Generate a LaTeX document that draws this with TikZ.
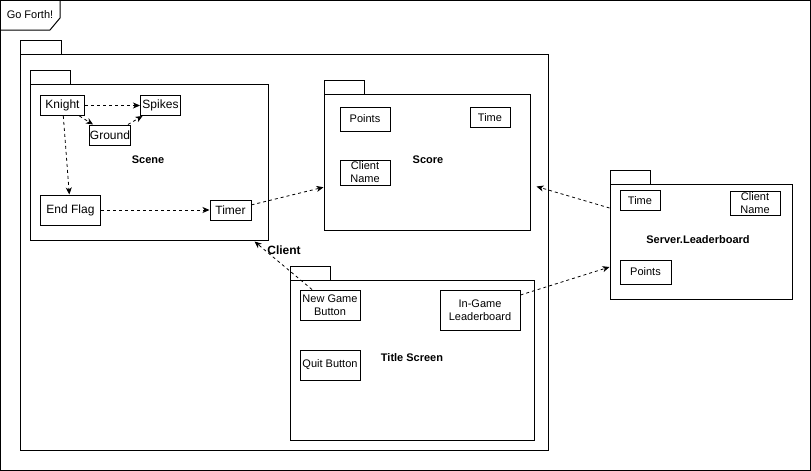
\documentclass[tikz,border=0pt]{standalone}
\usepackage{fontspec}
\setmainfont{Liberation Sans}
\usetikzlibrary{arrows.meta,calc}
\begin{document}
\begin{tikzpicture}[x=1pt,y=-1pt,
  box/.style={draw,line width=1pt,fill=white,inner sep=0pt,align=center,font=\fontsize{11}{13}\selectfont},
  bigbox/.style={box,font=\fontsize{12}{14}\selectfont},
  pkg/.style={draw,line width=1pt,fill=white,inner sep=0pt,font=\bfseries\fontsize{11}{13}\selectfont},
  tabbox/.style={draw,line width=1pt,fill=white},
  dep/.style={draw,line width=0.8pt,dash pattern=on 3pt off 3pt,-{Stealth[length=7pt,width=6pt,inset=2pt]}}
]
\useasboundingbox (0,0) rectangle (811,471);
% outer frame
\draw[line width=1pt,fill=white] (0.5,0.5) rectangle (810.5,470.5);
\draw[line width=1pt] (0.5,30) -- (50,30) -- (60,18) -- (60,0.5);
\node[font=\fontsize{11}{13}\selectfont] (goforth) at (30,15) {Go Forth!};

% Client package
\draw[tabbox] (20,40) rectangle (61,54);
\node[pkg,minimum width=528pt,minimum height=396pt,font=\bfseries\fontsize{12}{14}\selectfont,text depth=0pt] (client) at (284,252) {};
\node[font=\bfseries\fontsize{12}{14}\selectfont] (clientlbl) at (284,250) {Client};

% Scene package
\draw[tabbox] (30,70) rectangle (70,84);
\node[pkg,minimum width=238pt,minimum height=156pt] (scene) at (149,162) {};
\node[font=\bfseries\fontsize{11}{13}\selectfont] (scenelbl) at (148,160) {Scene};
\node[bigbox,minimum width=44pt,minimum height=20pt] (knight) at (62.5,105.5) {Knight};
\node[bigbox,minimum width=40pt,minimum height=20pt] (spikes) at (160.5,105.5) {Spikes};
\node[bigbox,minimum width=40pt,minimum height=20pt] (ground) at (110,135) {Ground};
\node[bigbox,minimum width=60pt,minimum height=30pt] (endflag) at (70.5,210) {End Flag};
\node[bigbox,minimum width=41pt,minimum height=20pt] (timer) at (230.5,210) {Timer};

% Score package
\draw[tabbox] (324,80) rectangle (364,94);
\node[pkg,minimum width=206pt,minimum height=136pt] (score) at (427,162) {};
\node[font=\bfseries\fontsize{11}{13}\selectfont] (scorelbl) at (428,160) {Score};
\node[box,minimum width=50pt,minimum height=24pt] (spoints) at (365,119) {Points};
\node[box,minimum width=40pt,minimum height=20pt] (stime) at (490,117.5) {Time};
\node[box,minimum width=50pt,minimum height=25pt] (sname) at (365,172.5) {Client\\Name};

% Server.Leaderboard package
\draw[tabbox] (610,170) rectangle (650,184);
\node[pkg,minimum width=182pt,minimum height=115pt] (server) at (701,241.5) {};
\node[font=\bfseries\fontsize{11}{13}\selectfont] (serverlbl) at (698,240) {Server.Leaderboard};
\node[box,minimum width=40pt,minimum height=20pt] (lbtime) at (640,200.5) {Time};
\node[box,minimum width=50pt,minimum height=24pt] (lbname) at (755,203) {Client\\Name};
\node[box,minimum width=51pt,minimum height=24pt] (lbpoints) at (645.5,272) {Points};

% Title Screen package
\draw[tabbox] (290,266) rectangle (330,280);
\node[pkg,minimum width=244pt,minimum height=160pt] (title) at (412,360) {};
\node[font=\bfseries\fontsize{11}{13}\selectfont] (titlelbl) at (412,358) {Title Screen};
\node[box,minimum width=60pt,minimum height=30pt] (newgame) at (330,305) {New Game\\Button};
\node[box,minimum width=60pt,minimum height=30pt] (quit) at (330,365) {Quit Button};
\node[box,minimum width=80pt,minimum height=40pt] (ingame) at (480,310) {In-Game\\Leaderboard};

% connectors
\draw[dep] (knight) -- (spikes);
\draw[dep] (knight) -- (ground);
\draw[dep] (ground) -- (spikes);
\draw[dep] (knight) -- (endflag);
\draw[dep] (endflag) -- (timer);
\draw[dep] (timer) -- (score);
\draw[dep] ($(server.west)+(0,-33.5)$) -- ($(score.east)+(6,24.5)$);
\draw[dep] ($(ingame.east)+(0,-15)$) -- ($(server.west)+(0,25.5)$);
\draw[dep] ($(newgame.north)+(-18,0)$) -- ($(scene.south east)+(-14,1)$);
\end{tikzpicture}
\end{document}
